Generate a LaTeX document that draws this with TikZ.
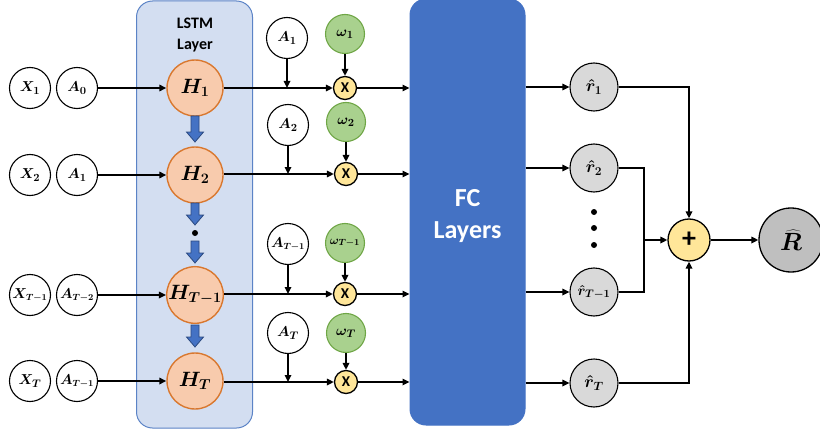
\documentclass[tikz,border=0pt]{standalone}
\usepackage{fontspec}
\setmainfont{Carlito}
\usetikzlibrary{arrows.meta}
\definecolor{lstmfill}{HTML}{D3DEF1}
\definecolor{lstmdraw}{HTML}{5B83C6}
\definecolor{fcblue}{HTML}{4472C4}
\definecolor{arrblue}{HTML}{4472C4}
\definecolor{arrdark}{HTML}{2B4A80}
\definecolor{hfill}{HTML}{F8CBAD}
\definecolor{hdraw}{HTML}{D9782F}
\definecolor{wfill}{HTML}{A9D18E}
\definecolor{wdraw}{HTML}{6FA646}
\definecolor{yfill}{HTML}{FFE699}
\definecolor{rfill}{HTML}{D9D9D9}
\definecolor{Rfill}{HTML}{BFBFBF}
\tikzset{
  inp/.style={circle, draw, line width=1.1, minimum size=41, inner sep=0pt, font=\boldmath\fontsize{15}{16}\selectfont},
  inps/.style={inp, font=\boldmath\fontsize{13.5}{14}\selectfont},
  hnode/.style={circle, draw=hdraw, fill=hfill, line width=1.4, minimum size=56, inner sep=0pt, font=\boldmath\fontsize{22}{23}\selectfont},
  hnodes/.style={hnode, font=\boldmath\fontsize{20}{21}\selectfont},
  wnode/.style={circle, draw=wdraw, fill=wfill, line width=1.1, minimum size=39, inner sep=0pt, font=\boldmath\fontsize{15}{16}\selectfont},
  wnodes/.style={wnode, font=\boldmath\fontsize{13}{14}\selectfont},
  mult/.style={circle, draw, fill=yfill, line width=1.3, minimum size=23, inner sep=0pt, font=\bfseries\fontsize{15}{15}\selectfont},
  rnode/.style={circle, draw, fill=rfill, line width=1.1, minimum size=48, inner sep=0pt, font=\boldmath\fontsize{17}{18}\selectfont},
  plusnode/.style={circle, draw, fill=yfill, line width=1.3, minimum size=42, inner sep=0pt, font=\bfseries\fontsize{28}{28}\selectfont},
  bignode/.style={circle, draw, fill=Rfill, line width=1.3, minimum size=64, inner sep=0pt, font=\boldmath\fontsize{27}{27}\selectfont},
  ar/.style={-{Triangle[length=7,width=6.5]}, line width=1.6},
  ln/.style={line width=1.6},
  panel/.style={rounded corners=16, line width=1},
  dotnode/.style={circle, fill, inner sep=0pt, minimum size=6},
  downarr/.pic={\draw[fill=arrblue, draw=arrdark, line width=0.8]
     (-4,-13) -- (4,-13) -- (4,3) -- (8.5,3) -- (0,13) -- (-8.5,3) -- (-4,3) -- cycle;},
  downarrs/.pic={\draw[fill=arrblue, draw=arrdark, line width=0.8]
     (-4,-11) -- (4,-11) -- (4,1) -- (8.5,1) -- (0,11) -- (-8.5,1) -- (-4,1) -- cycle;}
}
\begin{document}
\begin{tikzpicture}[x=1pt,y=-1pt]
\useasboundingbox (0,0) rectangle (820,436);
% panels
\node[panel, draw=lstmdraw, fill=lstmfill, minimum width=116, minimum height=427, inner sep=0pt] (lstm) at (194.5,214.5) {};
\node[align=center, font=\bfseries\fontsize{16}{21}\selectfont] (lstmtxt) at (195,35) {LSTM\\Layer};
\node[panel, draw=fcblue, fill=fcblue, minimum width=115, minimum height=426, inner sep=0pt] (fc) at (467.5,212) {};
\node[align=center, text=white, font=\bfseries\fontsize{26}{32}\selectfont] (fctxt) at (467.5,216) {FC\\Layers};

% inputs
\node[inp] (x1) at (30,88) {$X_1$};
\node[inp] (a0) at (77,88) {$A_0$};
\node[inp] (x2) at (30,175) {$X_2$};
\node[inp] (a1) at (77,175) {$A_1$};
\node[inps] (x3) at (30,295) {$X_{T-1}$};
\node[inps] (a2) at (77,295) {$A_{T-2}$};
\node[inp] (x4) at (30,381) {$X_T$};
\node[inps] (a3) at (77,381) {$A_{T-1}$};

% hidden states
\node[hnode] (h1) at (195,88) {$H_1$};
\node[hnode] (h2) at (195,175) {$H_2$};
\node[hnodes] (h3) at (195,295) {$H_{T-1}$};
\node[hnode] (h4) at (195,381) {$H_T$};

\pic at (195,129) {downarr};
\pic at (195,214) {downarrs};
\node[dotnode] (hdot) at (195,233) {};
\pic at (195,252) {downarrs};
\pic at (195,336) {downarrs};

\draw[ar] (a0) -- (h1);
\draw[ar] (a1) -- (h2);
\draw[ar] (a2) -- (h3);
\draw[ar] (a3) -- (h4);

% attention inputs
\node[inp] (b1) at (287,38) {$A_1$};
\node[inp] (b2) at (288,125) {$A_2$};
\node[inps] (b3) at (288,244) {$A_{T-1}$};
\node[inp] (b4) at (288,333) {$A_T$};

\node[wnode] (w1) at (345,34) {$\omega_1$};
\node[wnode] (w2) at (346,122) {$\omega_2$};
\node[wnodes] (w3) at (345,243) {$\omega_{T-1}$};
\node[wnode] (w4) at (346,333) {$\omega_T$};

\node[mult] (m1) at (345,88) {X};
\node[mult] (m2) at (346,174) {X};
\node[mult] (m3) at (345,294) {X};
\node[mult] (m4) at (346,382) {X};

\draw[ar] (h1.east) -- (m1);
\draw[ar] (h2.east |- m2) -- (m2);
\draw[ar] (h3.east |- m3) -- (m3);
\draw[ar] (h4.east |- m4) -- (m4);

\draw[ar] (b1) -- (b1 |- m1);
\draw[ar] (b2) -- (b2 |- m2);
\draw[ar] (b3) -- (b3 |- m3);
\draw[ar] (b4) -- (b4 |- m4);

\draw[ar] (w1) -- (m1);
\draw[ar] (w2) -- (m2);
\draw[ar] (w3) -- (m3);
\draw[ar] (w4) -- (m4);

\draw[ar] (m1) -- (m1 -| fc.west);
\draw[ar] (m2) -- (m2 -| fc.west);
\draw[ar] (m3) -- (m3 -| fc.west);
\draw[ar] (m4) -- (m4 -| fc.west);

% outputs
\node[rnode] (r1) at (594,87) {$\hat{r}_1$};
\node[rnode] (r2) at (594,168) {$\hat{r}_2$};
\node[rnode, font=\boldmath\fontsize{15}{16}\selectfont] (r3) at (594,292) {$\hat{r}_{T-1}$};
\node[rnode] (r4) at (594,383) {$\hat{r}_T$};
\node[dotnode] (d1) at (594,212) {};
\node[dotnode] (d2) at (594,228) {};
\node[dotnode] (d3) at (594,245) {};

\draw[ar] (r1 -| fc.east) -- (r1);
\draw[ar] (r2 -| fc.east) -- (r2);
\draw[ar] (r3 -| fc.east) -- (r3);
\draw[ar] (r4 -| fc.east) -- (r4);

\node[plusnode] (plus) at (689,240) {+};
\node[bignode] (R) at (791,240) {$\widehat{R}$};
\coordinate (j) at (644,240);

\draw[ar] (r1) -| (plus);
\draw[ln] (r2) -| (j);
\draw[ln] (r3) -| (j);
\draw[ar] (j) -- (plus);
\draw[ar] (r4) -| (plus);
\draw[ar] (plus) -- (R);
\end{tikzpicture}
\end{document}
